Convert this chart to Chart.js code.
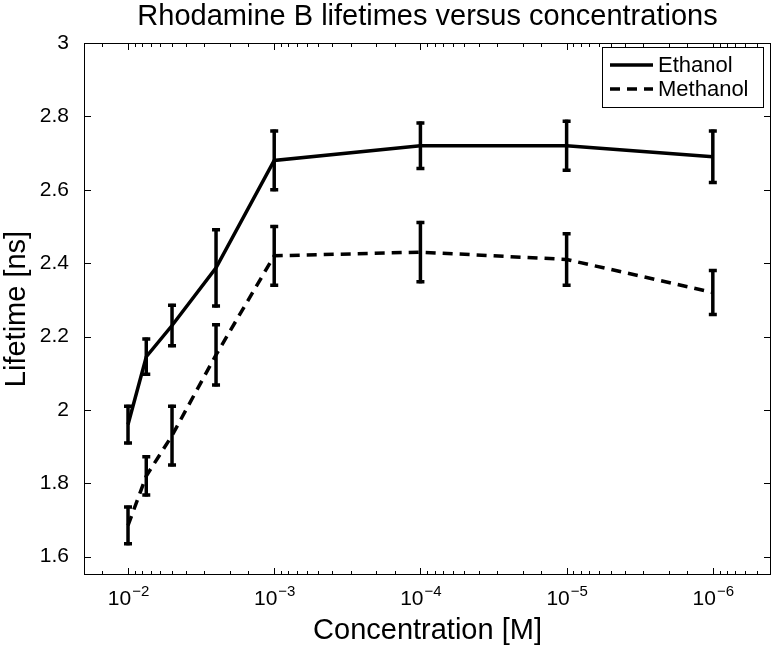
<!DOCTYPE html>
<html>
<head>
<meta charset="utf-8">
<script src="https://cdn.jsdelivr.net/npm/chart.js@4/dist/chart.umd.min.js"></script>
<style>
  html, body { margin: 0; padding: 0; background: #fff; }
  #wrap { width: 773px; height: 650px; }
</style>
</head>
<body>
<div id="wrap"><canvas id="chart" width="773" height="650"></canvas></div>
<script>
// concentrations [M] and lifetimes [ns]
const concentrations = [1e-2, 7.5e-3, 5e-3, 2.5e-3, 1e-3, 1e-4, 1e-5, 1e-6];
const ethanol = [1.96, 2.145, 2.23, 2.387, 2.68, 2.72, 2.72, 2.69];
const ethanolErr = [0.05, 0.048, 0.055, 0.104, 0.08, 0.062, 0.067, 0.07];
const methanol = [1.685, 1.82, 1.93, 2.15, 2.42, 2.43, 2.41, 2.32];
const methanolErr = [0.05, 0.052, 0.08, 0.082, 0.08, 0.081, 0.07, 0.06];

const xTicks = [1e-2, 1e-3, 1e-4, 1e-5, 1e-6];
const xTickExponents = ['\u22122', '\u22123', '\u22124', '\u22125', '\u22126'];
const yTicks = [1.6, 1.8, 2, 2.2, 2.4, 2.6, 2.8, 3];

const FONT = "'Liberation Sans', Arial, Helvetica, sans-serif";

function points(values) {
    return concentrations.map((c, i) => ({x: c, y: values[i]}));
}

// matlab style: box, inward ticks, error bars, legend inside the axes
const matlabAxes = {
    id: 'matlabAxes',
    beforeDraw(chart) {
        const ctx = chart.ctx;
        ctx.save();
        ctx.fillStyle = '#fff';
        ctx.fillRect(0, 0, chart.width, chart.height);
        ctx.restore();
    },
    afterDatasetsDraw(chart) {
        const ctx = chart.ctx;
        const x = chart.scales.x, y = chart.scales.y;
        ctx.save();
        ctx.strokeStyle = '#000';
        ctx.setLineDash([]);
        ctx.lineCap = 'butt';
        chart.data.datasets.forEach(ds => {
            ds.data.forEach((p, i) => {
                const px = x.getPixelForValue(p.x);
                const top = y.getPixelForValue(p.y + ds.errors[i]);
                const bot = y.getPixelForValue(p.y - ds.errors[i]);
                ctx.lineWidth = 3.5;
                ctx.beginPath();
                ctx.moveTo(px, top - 1.5);
                ctx.lineTo(px, bot + 1.5);
                ctx.stroke();
                ctx.lineWidth = 3.5;
                ctx.beginPath();
                ctx.moveTo(px - 4, top);
                ctx.lineTo(px + 4, top);
                ctx.moveTo(px - 4, bot);
                ctx.lineTo(px + 4, bot);
                ctx.stroke();
            });
        });
        ctx.restore();
    },
    afterDraw(chart) {
        const ctx = chart.ctx;
        const a = chart.chartArea;
        const x = chart.scales.x, y = chart.scales.y;
        ctx.save();
        ctx.strokeStyle = '#000';
        ctx.lineWidth = 1;
        ctx.setLineDash([]);
        ctx.strokeRect(Math.round(a.left) + 0.5, Math.round(a.top) + 0.5,
            Math.round(a.right - a.left) - 1, Math.round(a.bottom - a.top) - 1);

        // x ticks, top and bottom
        ctx.beginPath();
        x.ticks.forEach(t => {
            const px = Math.round(x.getPixelForValue(t.value)) + 0.5;
            if (px <= a.left + 1 || px >= a.right - 1) return;
            const e = Math.log10(t.value);
            const len = Math.abs(e - Math.round(e)) < 1e-6 ? 7 : 4;
            ctx.moveTo(px, a.bottom);
            ctx.lineTo(px, a.bottom - len);
            ctx.moveTo(px, a.top);
            ctx.lineTo(px, a.top + len);
        });
        // y ticks, left and right
        y.ticks.forEach(t => {
            const py = Math.round(y.getPixelForValue(t.value)) + 0.5;
            if (py <= a.top + 1 || py >= a.bottom - 1) return;
            ctx.moveTo(a.left, py);
            ctx.lineTo(a.left + 7, py);
            ctx.moveTo(a.right, py);
            ctx.lineTo(a.right - 7, py);
        });
        ctx.stroke();

        // x tick labels: 10 with a raised exponent
        ctx.fillStyle = '#000';
        ctx.textBaseline = 'alphabetic';
        ctx.textAlign = 'left';
        xTicks.forEach((v, i) => {
            const px = x.getPixelForValue(v);
            ctx.font = '21px ' + FONT;
            const wBase = ctx.measureText('10').width;
            ctx.font = '15px ' + FONT;
            const wExp = ctx.measureText(xTickExponents[i]).width;
            const left = px - (wBase + wExp) / 2;
            ctx.font = '21px ' + FONT;
            ctx.fillText('10', left, a.bottom + 30);
            ctx.font = '15px ' + FONT;
            ctx.fillText(xTickExponents[i], left + wBase + 1, a.bottom + 21);
        });

        // legend box
        const w = 161, h = 60;
        const bx = Math.round(a.right) - 8 - w, by = Math.round(a.top) + 4;
        ctx.fillStyle = '#fff';
        ctx.fillRect(bx, by, w, h);
        ctx.lineWidth = 1;
        ctx.strokeRect(bx + 0.5, by + 0.5, w, h);
        ctx.font = '22px ' + FONT;
        ctx.textBaseline = 'middle';
        chart.data.datasets.forEach((ds, i) => {
            const ly = by + 18 + i * 24;
            ctx.strokeStyle = '#000';
            ctx.lineWidth = ds.borderWidth;
            ctx.setLineDash(ds.borderDash || []);
            ctx.beginPath();
            ctx.moveTo(bx + 8, ly);
            ctx.lineTo(bx + 51, ly);
            ctx.stroke();
            ctx.fillStyle = '#000';
            ctx.fillText(ds.label, bx + 56, ly + 1);
        });
        ctx.restore();
    }
};

new Chart(document.getElementById('chart'), {
    type: 'line',
    data: {
        datasets: [{
            label: 'Ethanol',
            data: points(ethanol),
            errors: ethanolErr,
            borderColor: '#000',
            borderWidth: 3.5,
            pointRadius: 0,
            tension: 0,
        }, {
            label: 'Methanol',
            data: points(methanol),
            errors: methanolErr,
            borderColor: '#000',
            borderWidth: 3.5,
            borderDash: [10, 7],
            pointRadius: 0,
            tension: 0,
        }],
    },
    options: {
        responsive: false,
        animation: false,
        layout: {
            padding: {left: 0, right: 2, top: 0, bottom: 0},
        },
        plugins: {
            legend: {display: false},
            tooltip: {enabled: false},
        },
        scales: {
            x: {
                type: 'logarithmic',
                reverse: true,
                min: 4e-7,
                max: 0.02,
                grid: {display: false},
                border: {display: false},
                ticks: {display: false, autoSkip: false},
                title: {
                    display: true,
                    text: 'Concentration [M]',
                    color: '#000',
                    font: {family: FONT, size: 29, lineHeight: 1.2},
                    padding: {top: 0, bottom: 2},
                },
                afterFit(scale) { scale.height = 75; },
            },
            // top axis only carries the title, centred over the plot box
            top: {
                type: 'linear',
                position: 'top',
                min: 0,
                max: 1,
                grid: {display: false},
                border: {display: false},
                ticks: {display: false},
                title: {
                    display: true,
                    text: 'Rhodamine B lifetimes versus concentrations',
                    color: '#000',
                    font: {family: FONT, size: 29, lineHeight: 1.2},
                    padding: {top: 0, bottom: 0},
                },
                afterFit(scale) { scale.height = 43; },
            },
            y: {
                min: 1.55,
                max: 3,
                afterBuildTicks(scale) {
                    scale.ticks = yTicks.map(v => ({value: v}));
                },
                grid: {display: false},
                border: {display: false},
                ticks: {
                    color: '#000',
                    padding: 7,
                    font: {family: FONT, size: 21},
                    callback: v => String(Math.round(v * 10) / 10),
                },
                title: {
                    display: true,
                    text: 'Lifetime [ns]',
                    color: '#000',
                    font: {family: FONT, size: 29, lineHeight: 1.2},
                    padding: {top: 0, bottom: 0},
                },
                afterFit(scale) { scale.width = 84; },
            },
        },
    },
    plugins: [matlabAxes],
});
</script>
</body>
</html>
